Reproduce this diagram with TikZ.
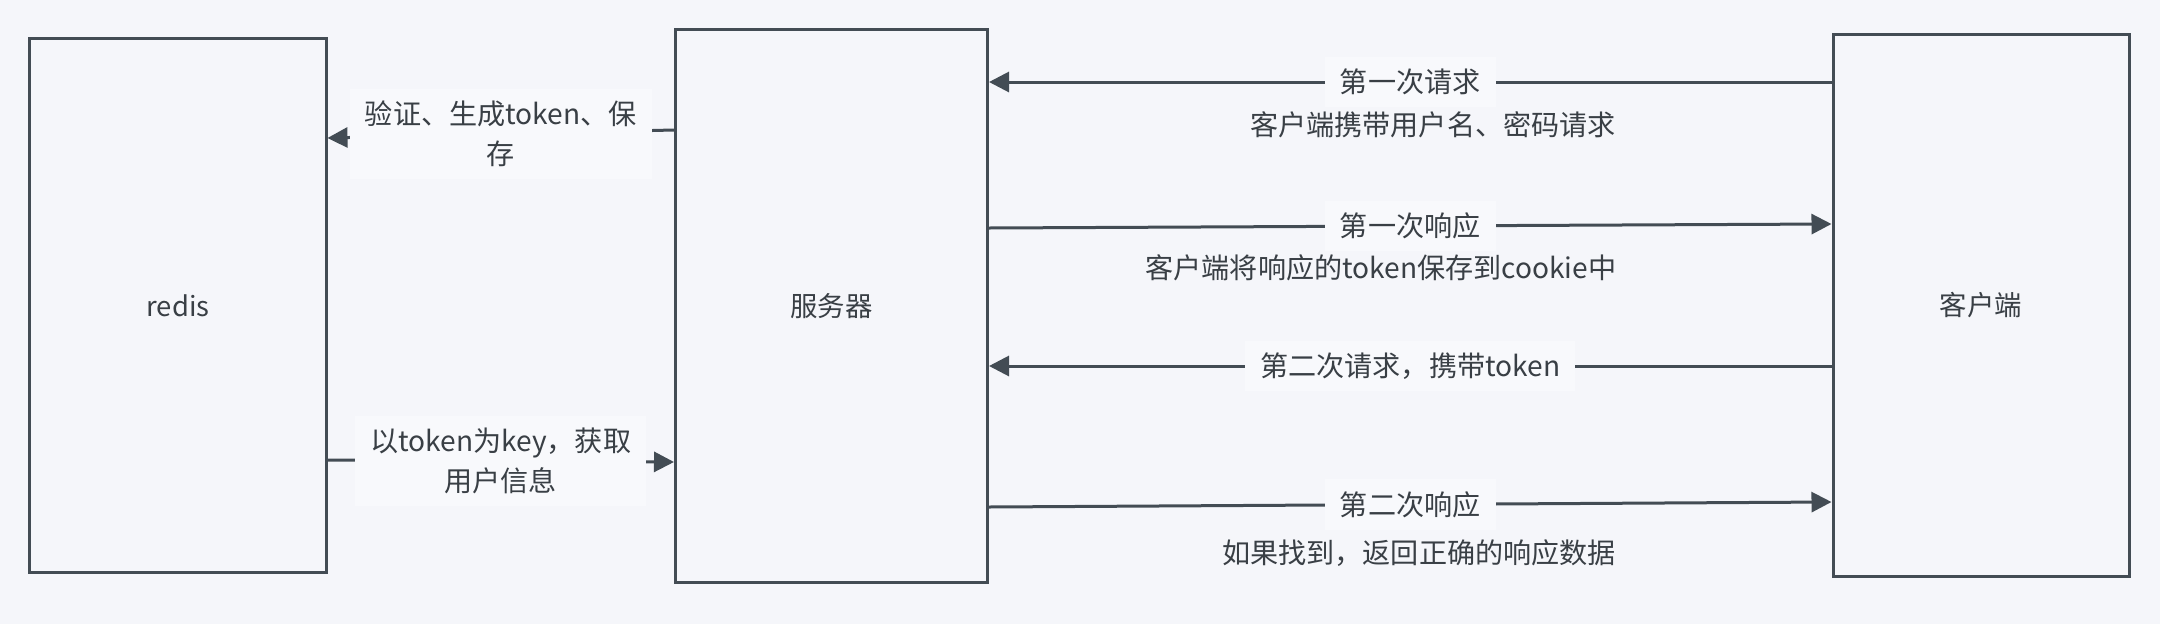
\documentclass[tikz,border=0pt]{standalone}
\usepackage{fontspec}
\setmainfont{Noto Sans CJK SC}
\usetikzlibrary{arrows.meta,calc}
\definecolor{bgc}{HTML}{F5F6FA}
\definecolor{edge}{HTML}{434C54}
\definecolor{ink}{HTML}{393F45}
\definecolor{tagbg}{HTML}{F8F9FC}

\begin{document}
\begin{tikzpicture}[x=0.2mm, y=-0.2mm, line width=0.6mm,
    box/.style={draw=edge, fill=bgc, inner sep=0pt, text=ink, font=\fontsize{15.6}{22.8}\selectfont},
    flow/.style={draw=edge, -{Triangle[length=4mm,width=4mm]}},
    tag/.style={fill=tagbg, text=ink, inner xsep=3mm, inner ysep=2.4mm, align=center, font=\fontsize{16}{22.8}\selectfont},
    note/.style={text=ink, inner sep=0pt, font=\fontsize{16}{22.8}\selectfont}]
    \fill[bgc] (0,0) rectangle (2160,624);
    \useasboundingbox (0,0) rectangle (2160,624);

    \node[box, minimum width=59.2mm, minimum height=106.6mm] (redis) at (178,305.5) {redis};
    \node[box, minimum width=62.4mm, minimum height=110.4mm] (srv) at (831.5,306) {服务器};
    \node[box, minimum width=59.2mm, minimum height=108.2mm] (cli) at (1981,305.5) {客户端};

    \draw[flow] (srv.west |- 0,130) -- node[tag] {验证、生成token、保\\存} (redis.east |- 0,138);
    \draw[flow] (redis.east |- 0,460) -- node[tag] {以token为key，获取\\用户信息} (srv.west |- 0,462);

    \draw[flow] (cli.west |- 0,82) -- node[tag] {第一次请求} (srv.east |- 0,82);
    \draw[flow] (srv.east |- 0,228) -- node[tag] {第一次响应} (cli.west |- 0,224);
    \draw[flow] (cli.west |- 0,366) -- node[tag] {第二次请求，携带token} (srv.east |- 0,366);
    \draw[flow] (srv.east |- 0,507) -- node[tag] {第二次响应} (cli.west |- 0,502);

    \node[note] (n1) at (1433,125) {客户端携带用户名、密码请求};
    \node[note] (n2) at (1381,268) {客户端将响应的token保存到cookie中};
    \node[note] (n3) at (1419,553) {如果找到，返回正确的响应数据};
\end{tikzpicture}
\end{document}
